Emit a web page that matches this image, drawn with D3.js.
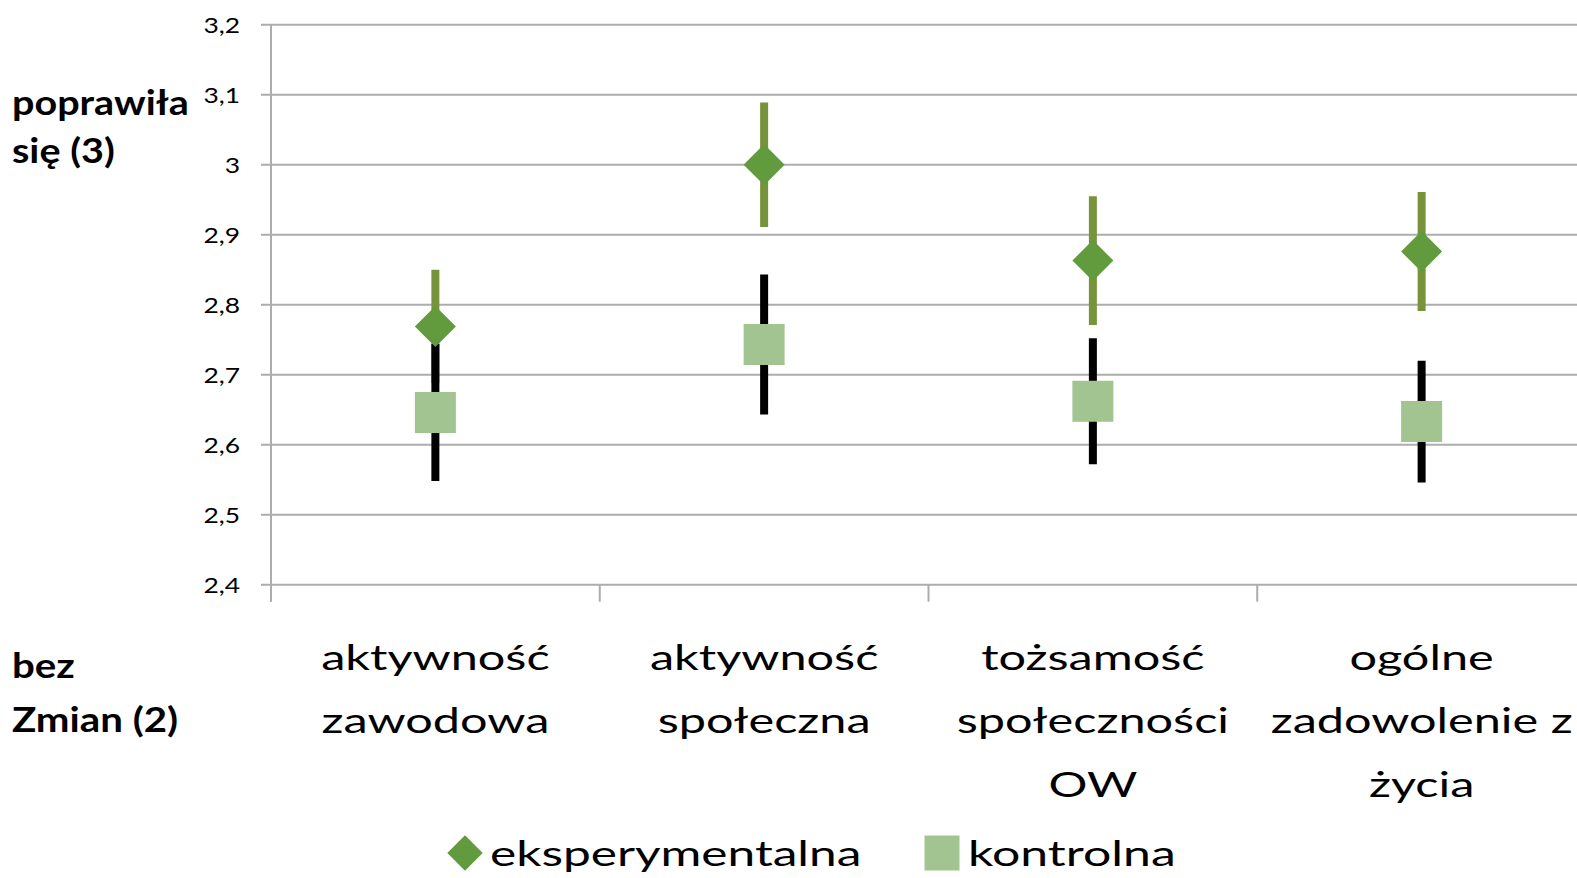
<!DOCTYPE html>
<html>
<head>
<meta charset="utf-8">
<script src="https://cdn.jsdelivr.net/npm/d3@7"></script>
<style>
  html, body { margin: 0; padding: 0; background: #fff; overflow: hidden; }
  svg { display: block; font-family: Lato, "Open Sans", sans-serif; }
</style>
</head>
<body>
<svg id="chart" width="1577" height="878"></svg>
<script>
// ---- data ----
const categories = ["aktywność zawodowa", "aktywność społeczna", "tożsamość społeczności OW", "ogólne zadowolenie z życia"];
const categoryLines = [
  ["aktywność", "zawodowa"],
  ["aktywność", "społeczna"],
  ["tożsamość", "społeczności", "OW"],
  ["ogólne", "zadowolenie z", "życia"]
];
const seriesNames = ["eksperymentalna", "kontrolna"];
const expMean = [2.769, 3.000, 2.863, 2.876];
const expErr  = [0.081, 0.089, 0.092, 0.085];
const ctrlMean = [2.646, 2.743, 2.662, 2.633];
const ctrlErr  = [0.098, 0.100, 0.090, 0.087];
const yTicks = [2.4, 2.5, 2.6, 2.7, 2.8, 2.9, 3.0, 3.1, 3.2];
const yTickLabels = ["2,4", "2,5", "2,6", "2,7", "2,8", "2,9", "3", "3,1", "3,2"];
const topLabel = ["poprawiła", "się (3)"];
const bottomLabel = ["bez", "Zmian (2)"];

// ---- layout ----
const svg = d3.select("#chart");
const plot = { left: 271, right: 1586, top: 24.7, bottom: 584.7 };
const x = d3.scaleBand().domain(categories).range([plot.left, plot.right]);
const y = d3.scaleLinear().domain([2.4, 3.2]).range([plot.bottom, plot.top]);

const colors = {
  grid: "#ADADAD",
  expFill: "#629A3E",
  expErr: "#77933C",
  ctrlFill: "#A1C490",
  ctrlErr: "#000000",
  text: "#000000"
};

// gridlines
svg.append("g").selectAll("line").data(yTicks).join("line")
  .attr("x1", plot.left - 10).attr("x2", 1577)
  .attr("y1", d => y(d)).attr("y2", d => y(d))
  .attr("stroke", colors.grid).attr("stroke-width", 2);

// y tick labels (Calibri-like: slightly wider than Lato)
svg.append("g").selectAll("text").data(yTicks).join("text")
  .attr("transform", d => `translate(240,${y(d)}) scale(1.2,1)`)
  .attr("text-anchor", "end").attr("dy", "0.36em")
  .attr("font-size", 22).attr("fill", colors.text)
  .text((d, i) => yTickLabels[i]);

// y axis line (extends as tick)
svg.append("line").attr("x1", plot.left).attr("x2", plot.left)
  .attr("y1", plot.top).attr("y2", plot.bottom + 17)
  .attr("stroke", colors.grid).attr("stroke-width", 2);

// x category ticks
const bounds = categories.map(c => x(c)).concat([plot.right]);
svg.append("g").selectAll("line").data(bounds).join("line")
  .attr("x1", d => d).attr("x2", d => d)
  .attr("y1", plot.bottom).attr("y2", plot.bottom + 17)
  .attr("stroke", colors.grid).attr("stroke-width", 2);

const cx = i => x(categories[i]) + x.bandwidth() / 2;

// category labels
const catG = svg.append("g").attr("font-size", 34).attr("fill", colors.text).attr("text-anchor", "middle");
categoryLines.forEach((lines, i) => {
  const t = catG.append("text").attr("transform", `translate(${cx(i)},0) scale(1.43,1)`);
  lines.forEach((ln, j) => {
    t.append("tspan").attr("x", 0).attr("y", 670 + j * 63.5).text(ln);
  });
});

// error bars
const errG = svg.append("g");
errG.selectAll("line.exp").data(expMean).join("line")
  .attr("x1", (d, i) => cx(i)).attr("x2", (d, i) => cx(i))
  .attr("y1", (d, i) => y(d + expErr[i])).attr("y2", (d, i) => y(d - expErr[i]))
  .attr("stroke", colors.expErr).attr("stroke-width", 8);
errG.selectAll("line.ctrl").data(ctrlMean).join("line")
  .attr("x1", (d, i) => cx(i)).attr("x2", (d, i) => cx(i))
  .attr("y1", (d, i) => y(d + ctrlErr[i])).attr("y2", (d, i) => y(d - ctrlErr[i]))
  .attr("stroke", colors.ctrlErr).attr("stroke-width", 8);

// markers
const diamond = d3.symbol().type(d3.symbolSquare).size(29 * 29);
const square = d3.symbol().type(d3.symbolSquare).size(41 * 41);
svg.append("g").selectAll("path").data(expMean).join("path")
  .attr("d", diamond)
  .attr("transform", (d, i) => `translate(${cx(i)},${y(d)}) rotate(45)`)
  .attr("fill", colors.expFill);
svg.append("g").selectAll("path").data(ctrlMean).join("path")
  .attr("d", square)
  .attr("transform", (d, i) => `translate(${cx(i)},${y(d)})`)
  .attr("fill", colors.ctrlFill);

// side labels
const side = svg.append("g").attr("font-size", 35).attr("font-weight", "bold").attr("fill", colors.text);
const tl = side.append("text").attr("transform", "translate(12,0) scale(1.13,1)");
topLabel.forEach((ln, j) => tl.append("tspan").attr("x", 0).attr("y", 115 + j * 48).text(ln));
const bl = side.append("text").attr("transform", "translate(12,0) scale(1.15,1)");
bottomLabel.forEach((ln, j) => bl.append("tspan").attr("x", 0).attr("y", 678 + j * 54).text(ln));

// legend
const leg = svg.append("g");
const legDiamond = d3.symbol().type(d3.symbolSquare).size(25 * 25);
leg.append("path").attr("d", legDiamond)
  .attr("transform", "translate(465,853) rotate(45)").attr("fill", colors.expFill);
leg.append("text").attr("transform", "translate(490,866) scale(1.46,1)")
  .attr("font-size", 34).attr("fill", colors.text).text(seriesNames[0]);
leg.append("path").attr("d", d3.symbol().type(d3.symbolSquare).size(35 * 35))
  .attr("transform", "translate(942,853)").attr("fill", colors.ctrlFill);
leg.append("text").attr("transform", "translate(968,866) scale(1.47,1)")
  .attr("font-size", 34).attr("fill", colors.text).text(seriesNames[1]);
</script>
</body>
</html>
